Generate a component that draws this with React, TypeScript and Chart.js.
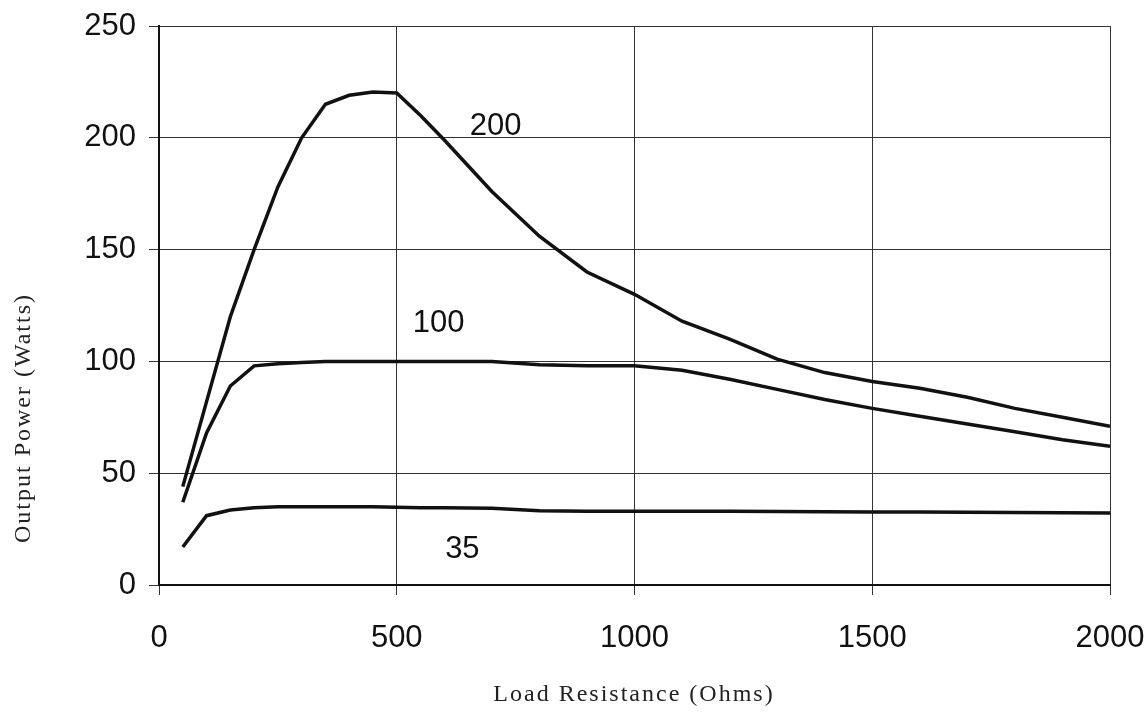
import React, { useEffect, useRef } from "react";
import { Chart, registerables } from "chart.js";

Chart.register(...registerables);

// Load resistance (Ohms)
const resistance = [50, 100, 150, 200, 250, 300, 350, 400, 450, 500, 550, 600, 700, 800, 900, 1000, 1100, 1200, 1300, 1400, 1500, 1600, 1700, 1800, 1900, 2000];
// Output power (Watts) for each curve
const power200 = [44, 82, 120, 150, 178, 200, 215, 219, 220.5, 220, 210, 199, 176, 156, 140, 130, 118, 110, 101, 95, 91, 88, 84, 79, 75, 71];
const power100 = [37, 68, 89, 98, 99, 99.5, 100, 100, 100, 100, 100, 100, 100, 98.5, 98, 98, 96, 92, 87.5, 83, 79, 75.5, 72, 68.5, 65, 62];
const power35 = [17, 31, 33.5, 34.5, 35, 35, 35, 35, 35, 34.8, 34.6, 34.5, 34.3, 33.2, 33, 33, 33, 33, 32.9, 32.8, 32.7, 32.6, 32.5, 32.4, 32.3, 32.2];

const seriesNames = ["200", "100", "35"];
// anchor of each curve's label, in data units (ohms, watts)
const labelOhms = [708, 588, 638];
const labelWatts = [205, 117, 16];

const xTitle = "Load Resistance (Ohms)";
const yTitle = "Output Power (Watts)";

const TICK_FONT = { family: "'Liberation Sans', Arial, sans-serif", size: 31 };
const TITLE_FONT = "24px 'Liberation Serif', 'Times New Roman', serif";

const annotationPlugin = {
  id: "curveLabels",
  afterDatasetsDraw(chart: any) {
    const { ctx, scales } = chart;
    const xs = scales.x;
    const ys = scales.y;
    ctx.save();
    ctx.fillStyle = "#111";
    ctx.font = `${TICK_FONT.size}px ${TICK_FONT.family}`;
    ctx.textAlign = "center";
    ctx.textBaseline = "middle";
    seriesNames.forEach((name, i) => {
      ctx.fillText(name, xs.getPixelForValue(labelOhms[i]), ys.getPixelForValue(labelWatts[i]));
    });
    // axis titles
    ctx.font = TITLE_FONT;
    ctx.fillStyle = "#222";
    try {
      (ctx as any).letterSpacing = "2px";
    } catch (e) {}
    ctx.fillText(xTitle, 634, 695);
    ctx.translate(24, 418);
    ctx.rotate(-Math.PI / 2);
    ctx.fillText(yTitle, 0, 0);
    ctx.restore();
  },
};

export default function App() {
  const ref = useRef<HTMLCanvasElement | null>(null);

  useEffect(() => {
    if (!ref.current) return;
    const mk = (ys: number[]) => resistance.map((x, i) => ({ x, y: ys[i] }));
    const lineStyle = {
      borderColor: "#111",
      borderWidth: 3.5,
      pointRadius: 0,
      fill: false,
      tension: 0,
      showLine: true,
    };
    const chart = new Chart(ref.current, {
      type: "scatter",
      data: {
        datasets: [
          { label: seriesNames[0], data: mk(power200), ...lineStyle },
          { label: seriesNames[1], data: mk(power100), ...lineStyle },
          { label: seriesNames[2], data: mk(power35), ...lineStyle },
        ],
      },
      options: {
        animation: false,
        responsive: true,
        maintainAspectRatio: false,
        layout: { padding: { top: 26, right: 37, left: 0, bottom: 0 } },
        plugins: { legend: { display: false }, tooltip: { enabled: false } },
        scales: {
          x: {
            type: "linear",
            min: 0,
            max: 2000,
            afterFit(scale: any) {
              scale.height = 131;
              scale.paddingLeft = 0;
              scale.paddingRight = 0;
            },
            ticks: {
              stepSize: 500,
              autoSkip: false,
              maxRotation: 0,
              color: "#111",
              font: TICK_FONT,
              padding: 25,
              callback: (v: any) => String(v),
            },
            grid: { color: "#333", lineWidth: 1, tickLength: 10 },
            border: { color: "#111", width: 2 },
          },
          y: {
            min: 0,
            max: 250,
            afterFit(scale: any) {
              scale.width = 159;
              scale.paddingTop = 0;
              scale.paddingBottom = 0;
            },
            ticks: {
              stepSize: 50,
              color: "#111",
              font: TICK_FONT,
              padding: 13,
              callback: (v: any) => String(v),
            },
            grid: { color: "#333", lineWidth: 1, tickLength: 10 },
            border: { color: "#111", width: 2 },
          },
        },
      },
      plugins: [annotationPlugin],
    });
    return () => chart.destroy();
  }, []);

  return (
    <div style={{ position: "fixed", left: 0, top: 0, width: 1147, height: 716, background: "#fff" }}>
      <canvas ref={ref} />
    </div>
  );
}
